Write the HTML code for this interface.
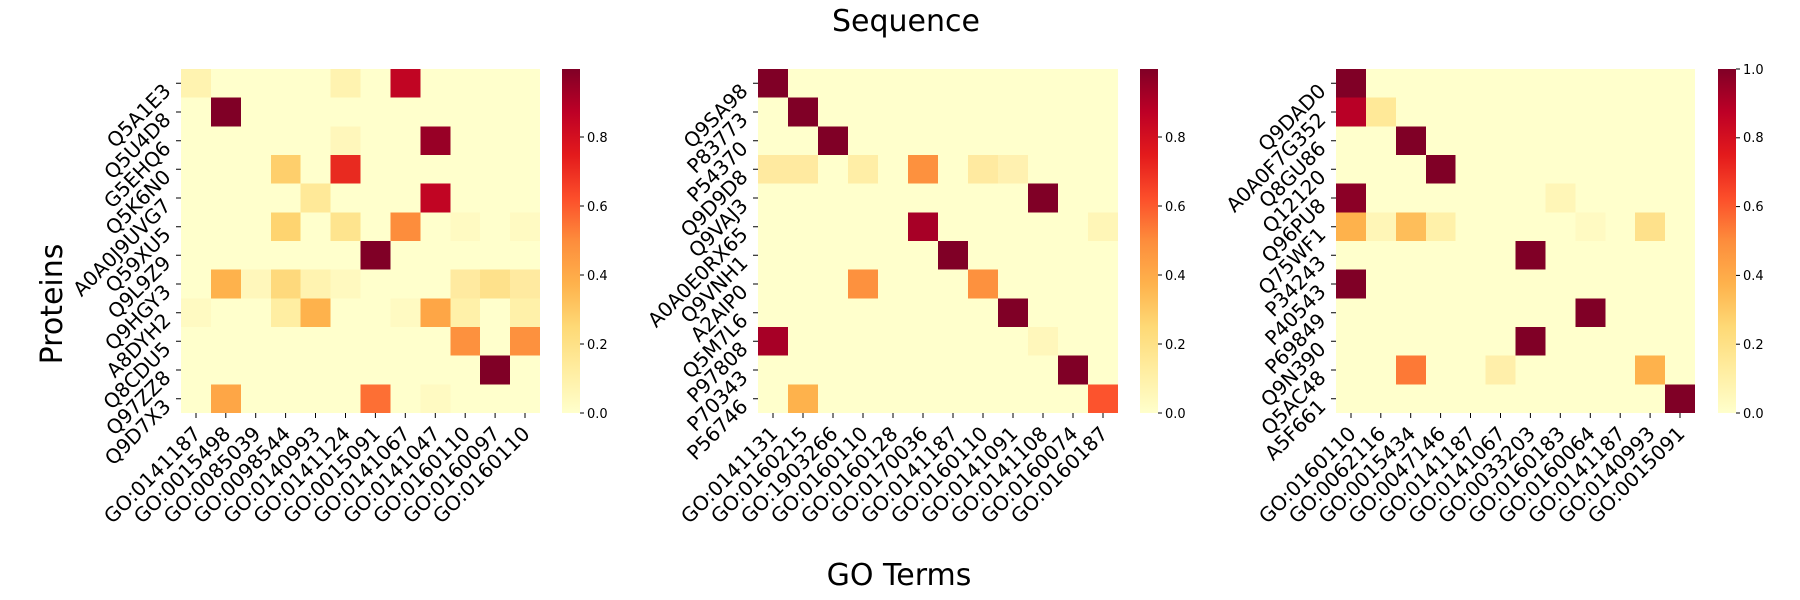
<!DOCTYPE html>
<html><head><meta charset="utf-8"><style>
html,body{margin:0;padding:0;background:#fff;}
svg{display:block;}
text{font-family:"DejaVu Sans","Liberation Sans",sans-serif;fill:#000;}
.yl,.xl{font-size:20px;}
.cb{font-size:13px;}
</style></head><body>
<svg width="1800" height="600" viewBox="0 0 1800 600" xmlns="http://www.w3.org/2000/svg">
<defs>
<linearGradient id="g" x1="0" y1="1" x2="0" y2="0">
<stop offset="0" stop-color="#ffffcc"/><stop offset="0.125" stop-color="#ffeda0"/><stop offset="0.25" stop-color="#fed976"/><stop offset="0.375" stop-color="#feb24c"/><stop offset="0.5" stop-color="#fd8d3c"/><stop offset="0.625" stop-color="#fc4e2a"/><stop offset="0.75" stop-color="#e31a1c"/><stop offset="0.875" stop-color="#bd0026"/><stop offset="1" stop-color="#800026"/>
</linearGradient>
</defs>
<text x="906" y="31" font-size="30" text-anchor="middle">Sequence</text>
<text x="899" y="585" font-size="30" text-anchor="middle">GO Terms</text>
<text transform="translate(62,304) rotate(-90)" font-size="30" text-anchor="middle">Proteins</text>

<!-- Panel 1 -->
<g transform="translate(181,69) scale(29.917,28.667)" shape-rendering="crispEdges">
<rect x="0" y="0" width="12" height="12" fill="#ffffcc"/>
<rect x="0" y="0" width="1" height="1" fill="#fff3b0"/><rect x="5" y="0" width="1" height="1" fill="#fff3b0"/><rect x="7" y="0" width="1" height="1" fill="#c10523"/>
<rect x="1" y="1" width="1" height="1" fill="#800026"/>
<rect x="5" y="2" width="1" height="1" fill="#fff7bb"/><rect x="8" y="2" width="1" height="1" fill="#980026"/>
<rect x="3" y="3" width="1" height="1" fill="#fecf6c"/><rect x="5" y="3" width="1" height="1" fill="#e82a20"/>
<rect x="4" y="4" width="1" height="1" fill="#ffe998"/><rect x="8" y="4" width="1" height="1" fill="#c10523"/>
<rect x="3" y="5" width="1" height="1" fill="#fed470"/><rect x="5" y="5" width="1" height="1" fill="#fee48e"/><rect x="7" y="5" width="1" height="1" fill="#fd8d3c"/>
<rect x="9" y="5" width="1" height="1" fill="#fffac2"/><rect x="11" y="5" width="1" height="1" fill="#fffac2"/>
<rect x="6" y="6" width="1" height="1" fill="#800026"/>
<rect x="1" y="7" width="1" height="1" fill="#feb24c"/><rect x="2" y="7" width="1" height="1" fill="#fff7bb"/><rect x="3" y="7" width="1" height="1" fill="#fed97c"/><rect x="4" y="7" width="1" height="1" fill="#fff3b0"/><rect x="5" y="7" width="1" height="1" fill="#fff9bf"/><rect x="9" y="7" width="1" height="1" fill="#ffeaa0"/><rect x="10" y="7" width="1" height="1" fill="#fee18b"/><rect x="11" y="7" width="1" height="1" fill="#ffeaa0"/>
<rect x="0" y="8" width="1" height="1" fill="#fffac2"/><rect x="3" y="8" width="1" height="1" fill="#ffeea2"/><rect x="4" y="8" width="1" height="1" fill="#feb24c"/><rect x="7" y="8" width="1" height="1" fill="#fffac2"/><rect x="8" y="8" width="1" height="1" fill="#fea646"/><rect x="9" y="8" width="1" height="1" fill="#fff1a9"/><rect x="11" y="8" width="1" height="1" fill="#fff1a9"/>
<rect x="9" y="9" width="1" height="1" fill="#fd913e"/><rect x="11" y="9" width="1" height="1" fill="#fd913e"/>
<rect x="10" y="10" width="1" height="1" fill="#800026"/>
<rect x="1" y="11" width="1" height="1" fill="#fea646"/><rect x="6" y="11" width="1" height="1" fill="#fd6f34"/><rect x="8" y="11" width="1" height="1" fill="#fffac2"/>
</g>
<rect x="562" y="69" width="18" height="344" fill="url(#g)"/>
<g stroke="#000" stroke-width="1">
<line x1="580" y1="413" x2="584" y2="413"/><line x1="580" y1="344" x2="584" y2="344"/><line x1="580" y1="275" x2="584" y2="275"/><line x1="580" y1="206" x2="584" y2="206"/><line x1="580" y1="137" x2="584" y2="137"/>
</g>
<g class="cb"><text x="587" y="418">0.0</text><text x="587" y="349">0.2</text><text x="587" y="280">0.4</text><text x="587" y="211">0.6</text><text x="587" y="142">0.8</text></g>

<!-- Panel 2 -->
<g transform="translate(758,69) scale(30,28.667)" shape-rendering="crispEdges">
<rect x="0" y="0" width="12" height="12" fill="#ffffcc"/>
<rect x="0" y="0" width="1" height="1" fill="#800026"/>
<rect x="1" y="1" width="1" height="1" fill="#800026"/>
<rect x="2" y="2" width="1" height="1" fill="#800026"/>
<rect x="0" y="3" width="1" height="1" fill="#ffeaa0"/><rect x="1" y="3" width="1" height="1" fill="#ffeaa0"/><rect x="3" y="3" width="1" height="1" fill="#ffeea6"/><rect x="5" y="3" width="1" height="1" fill="#fd913e"/><rect x="7" y="3" width="1" height="1" fill="#ffeaa0"/><rect x="8" y="3" width="1" height="1" fill="#fff1b0"/>
<rect x="9" y="4" width="1" height="1" fill="#800026"/>
<rect x="5" y="5" width="1" height="1" fill="#a70026"/><rect x="11" y="5" width="1" height="1" fill="#fff6b7"/>
<rect x="6" y="6" width="1" height="1" fill="#800026"/>
<rect x="3" y="7" width="1" height="1" fill="#fd913e"/><rect x="7" y="7" width="1" height="1" fill="#fd913e"/>
<rect x="8" y="8" width="1" height="1" fill="#800026"/>
<rect x="0" y="9" width="1" height="1" fill="#a70026"/><rect x="9" y="9" width="1" height="1" fill="#fff7bb"/>
<rect x="10" y="10" width="1" height="1" fill="#800026"/>
<rect x="1" y="11" width="1" height="1" fill="#feb24c"/><rect x="11" y="11" width="1" height="1" fill="#fc532d"/>
</g>
<rect x="1140" y="69" width="18" height="344" fill="url(#g)"/>
<g stroke="#000" stroke-width="1">
<line x1="1158" y1="413" x2="1162" y2="413"/><line x1="1158" y1="344" x2="1162" y2="344"/><line x1="1158" y1="275" x2="1162" y2="275"/><line x1="1158" y1="206" x2="1162" y2="206"/><line x1="1158" y1="137" x2="1162" y2="137"/>
</g>
<g class="cb"><text x="1165" y="418">0.0</text><text x="1165" y="349">0.2</text><text x="1165" y="280">0.4</text><text x="1165" y="211">0.6</text><text x="1165" y="142">0.8</text></g>

<!-- Panel 3 -->
<g transform="translate(1336,69) scale(29.917,28.667)" shape-rendering="crispEdges">
<rect x="0" y="0" width="12" height="12" fill="#ffffcc"/>
<rect x="0" y="0" width="1" height="1" fill="#800026"/>
<rect x="0" y="1" width="1" height="1" fill="#b90026"/><rect x="1" y="1" width="1" height="1" fill="#ffe998"/>
<rect x="2" y="2" width="1" height="1" fill="#800026"/>
<rect x="3" y="3" width="1" height="1" fill="#800026"/>
<rect x="0" y="4" width="1" height="1" fill="#8b0026"/><rect x="7" y="4" width="1" height="1" fill="#fff6b7"/>
<rect x="0" y="5" width="1" height="1" fill="#feb24c"/><rect x="1" y="5" width="1" height="1" fill="#fff6b7"/><rect x="2" y="5" width="1" height="1" fill="#febe5a"/><rect x="3" y="5" width="1" height="1" fill="#fff1a9"/><rect x="8" y="5" width="1" height="1" fill="#fffac2"/><rect x="10" y="5" width="1" height="1" fill="#fee18b"/>
<rect x="6" y="6" width="1" height="1" fill="#800026"/>
<rect x="0" y="7" width="1" height="1" fill="#800026"/>
<rect x="8" y="8" width="1" height="1" fill="#800026"/>
<rect x="6" y="9" width="1" height="1" fill="#800026"/>
<rect x="2" y="10" width="1" height="1" fill="#fd7936"/><rect x="5" y="10" width="1" height="1" fill="#ffefaa"/><rect x="10" y="10" width="1" height="1" fill="#feb24c"/>
<rect x="11" y="11" width="1" height="1" fill="#800026"/>
</g>
<rect x="1718" y="69" width="18" height="344" fill="url(#g)"/>
<g stroke="#000" stroke-width="1">
<line x1="1736" y1="413" x2="1740" y2="413"/><line x1="1736" y1="344.2" x2="1740" y2="344.2"/><line x1="1736" y1="275.4" x2="1740" y2="275.4"/><line x1="1736" y1="206.6" x2="1740" y2="206.6"/><line x1="1736" y1="137.8" x2="1740" y2="137.8"/><line x1="1736" y1="69" x2="1740" y2="69"/>
</g>
<g class="cb"><text x="1743" y="418">0.0</text><text x="1743" y="349">0.2</text><text x="1743" y="280">0.4</text><text x="1743" y="211">0.6</text><text x="1743" y="142">0.8</text><text x="1743" y="74">1.0</text></g>

<!-- tick marks -->
<g stroke="#000" stroke-width="1">
<path d="M176 83.3H181M176 112H181M176 140.7H181M176 169.3H181M176 198H181M176 226.7H181M176 255.3H181M176 284H181M176 312.7H181M176 341.3H181M176 370H181M176 398.7H181"/>
<path d="M753 83.3H758M753 112H758M753 140.7H758M753 169.3H758M753 198H758M753 226.7H758M753 255.3H758M753 284H758M753 312.7H758M753 341.3H758M753 370H758M753 398.7H758"/>
<path d="M1331 83.3H1336M1331 112H1336M1331 140.7H1336M1331 169.3H1336M1331 198H1336M1331 226.7H1336M1331 255.3H1336M1331 284H1336M1331 312.7H1336M1331 341.3H1336M1331 370H1336M1331 398.7H1336"/>
<path d="M196 413V418M225.8 413V418M255.7 413V418M285.6 413V418M315.5 413V418M345.5 413V418M375.4 413V418M405.3 413V418M435.3 413V418M465.2 413V418M495.1 413V418M525 413V418"/>
<path d="M773 413V418M803 413V418M833 413V418M863 413V418M893 413V418M923 413V418M953 413V418M983 413V418M1013 413V418M1043 413V418M1073 413V418M1103 413V418"/>
<path d="M1351 413V418M1380.8 413V418M1410.7 413V418M1440.6 413V418M1470.5 413V418M1500.5 413V418M1530.4 413V418M1560.3 413V418M1590.3 413V418M1620.2 413V418M1650.1 413V418M1680 413V418"/>
</g>

<g class="yl" text-anchor="end">
<text transform="translate(172,92.3) rotate(-45)">Q5A1E3</text>
<text transform="translate(172,121) rotate(-45)">Q5U4D8</text>
<text transform="translate(172,149.7) rotate(-45)">G5EHQ6</text>
<text transform="translate(172,178.3) rotate(-45)">Q5K6N0</text>
<text transform="translate(172,207) rotate(-45)">A0A0J9UVG7</text>
<text transform="translate(172,235.7) rotate(-45)">Q59XU5</text>
<text transform="translate(172,264.3) rotate(-45)">Q9L9Z9</text>
<text transform="translate(172,293) rotate(-45)">Q9HGY3</text>
<text transform="translate(172,321.7) rotate(-45)">A8DYH2</text>
<text transform="translate(172,350.3) rotate(-45)">Q8CDU5</text>
<text transform="translate(172,379) rotate(-45)">Q97ZZ8</text>
<text transform="translate(172,407.7) rotate(-45)">Q9D7X3</text>
</g>
<g class="yl" text-anchor="end">
<text transform="translate(749,92.3) rotate(-45)">Q9SA98</text>
<text transform="translate(749,121) rotate(-45)">P83773</text>
<text transform="translate(749,149.7) rotate(-45)">P54370</text>
<text transform="translate(749,178.3) rotate(-45)">Q9D9D8</text>
<text transform="translate(749,207) rotate(-45)">Q9VAJ3</text>
<text transform="translate(749,235.7) rotate(-45)">A0A0E0RX65</text>
<text transform="translate(749,264.3) rotate(-45)">Q9VNH1</text>
<text transform="translate(749,293) rotate(-45)">A2AIP0</text>
<text transform="translate(749,321.7) rotate(-45)">Q5M7L6</text>
<text transform="translate(749,350.3) rotate(-45)">P97808</text>
<text transform="translate(749,379) rotate(-45)">P70343</text>
<text transform="translate(749,407.7) rotate(-45)">P56746</text>
</g>
<g class="yl" text-anchor="end">
<text transform="translate(1327,92.3) rotate(-45)">Q9DAD0</text>
<text transform="translate(1327,121) rotate(-45)">A0A0F7G352</text>
<text transform="translate(1327,149.7) rotate(-45)">Q8GU86</text>
<text transform="translate(1327,178.3) rotate(-45)">Q12120</text>
<text transform="translate(1327,207) rotate(-45)">Q96PU8</text>
<text transform="translate(1327,235.7) rotate(-45)">Q75WF1</text>
<text transform="translate(1327,264.3) rotate(-45)">P34243</text>
<text transform="translate(1327,293) rotate(-45)">P40543</text>
<text transform="translate(1327,321.7) rotate(-45)">P69849</text>
<text transform="translate(1327,350.3) rotate(-45)">Q9N390</text>
<text transform="translate(1327,379) rotate(-45)">Q5AC48</text>
<text transform="translate(1327,407.7) rotate(-45)">A5F661</text>
</g>

<g class="xl" text-anchor="end">
<text transform="translate(202,435) rotate(-45)">GO:0141187</text>
<text transform="translate(231.8,435) rotate(-45)">GO:0015498</text>
<text transform="translate(261.7,435) rotate(-45)">GO:0085039</text>
<text transform="translate(291.6,435) rotate(-45)">GO:0098544</text>
<text transform="translate(321.5,435) rotate(-45)">GO:0140993</text>
<text transform="translate(351.5,435) rotate(-45)">GO:0141124</text>
<text transform="translate(381.4,435) rotate(-45)">GO:0015091</text>
<text transform="translate(411.3,435) rotate(-45)">GO:0141067</text>
<text transform="translate(441.3,435) rotate(-45)">GO:0141047</text>
<text transform="translate(471.2,435) rotate(-45)">GO:0160110</text>
<text transform="translate(501.1,435) rotate(-45)">GO:0160097</text>
<text transform="translate(531,435) rotate(-45)">GO:0160110</text>
</g>
<g class="xl" text-anchor="end">
<text transform="translate(779,435) rotate(-45)">GO:0141131</text>
<text transform="translate(809,435) rotate(-45)">GO:0160215</text>
<text transform="translate(839,435) rotate(-45)">GO:1903266</text>
<text transform="translate(869,435) rotate(-45)">GO:0160110</text>
<text transform="translate(899,435) rotate(-45)">GO:0160128</text>
<text transform="translate(929,435) rotate(-45)">GO:0170036</text>
<text transform="translate(959,435) rotate(-45)">GO:0141187</text>
<text transform="translate(989,435) rotate(-45)">GO:0160110</text>
<text transform="translate(1019,435) rotate(-45)">GO:0141091</text>
<text transform="translate(1049,435) rotate(-45)">GO:0141108</text>
<text transform="translate(1079,435) rotate(-45)">GO:0160074</text>
<text transform="translate(1109,435) rotate(-45)">GO:0160187</text>
</g>
<g class="xl" text-anchor="end">
<text transform="translate(1357,435) rotate(-45)">GO:0160110</text>
<text transform="translate(1386.8,435) rotate(-45)">GO:0062116</text>
<text transform="translate(1416.7,435) rotate(-45)">GO:0015434</text>
<text transform="translate(1446.6,435) rotate(-45)">GO:0047146</text>
<text transform="translate(1476.5,435) rotate(-45)">GO:0141187</text>
<text transform="translate(1506.5,435) rotate(-45)">GO:0141067</text>
<text transform="translate(1536.4,435) rotate(-45)">GO:0033203</text>
<text transform="translate(1566.3,435) rotate(-45)">GO:0160183</text>
<text transform="translate(1596.3,435) rotate(-45)">GO:0160064</text>
<text transform="translate(1626.2,435) rotate(-45)">GO:0141187</text>
<text transform="translate(1656.1,435) rotate(-45)">GO:0140993</text>
<text transform="translate(1686,435) rotate(-45)">GO:0015091</text>
</g>
</svg>
</body></html>
